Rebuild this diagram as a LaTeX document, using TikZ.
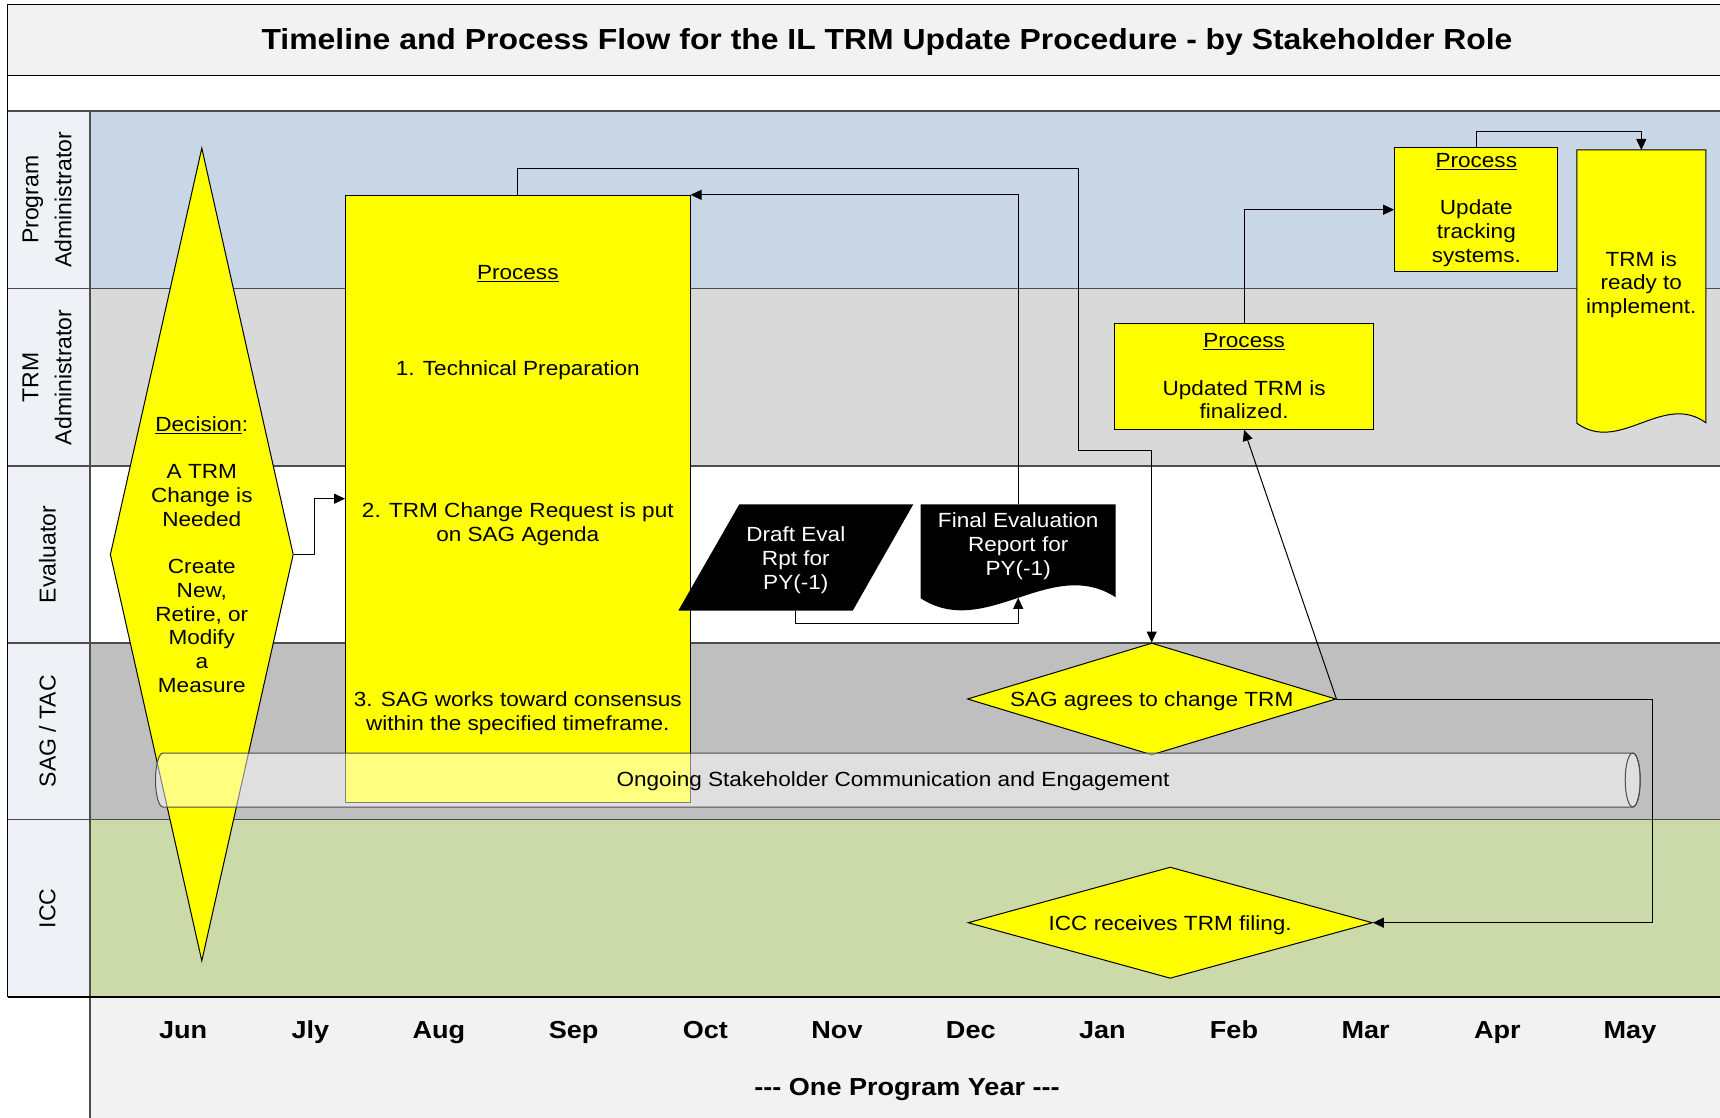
\documentclass[tikz,border=0pt]{standalone}
\usepackage{fontspec}
\setmainfont{Liberation Sans}[FakeStretch=1.1]
\newfontfamily\lanefont{Liberation Sans}
\usetikzlibrary{arrows.meta, shapes.geometric, positioning}

\definecolor{padmin}{HTML}{C8D6E5}
\definecolor{trmadmin}{HTML}{D9D9D9}
\definecolor{sagtac}{HTML}{BFBFBF}
\definecolor{icclane}{HTML}{CCDAAA}
\definecolor{labelcol}{HTML}{EEF1F6}
\definecolor{banner}{HTML}{F2F2F2}
\definecolor{laneline}{HTML}{4D4D4D}
\definecolor{stepyellow}{RGB}{255,255,0}

\newcommand\bodyfont{\fontsize{20.5}{23.7}\selectfont}

\tikzset{
  lane/.style={draw=laneline, line width=1.8pt},
  lanelabel/.style={rotate=90, align=center, font=\lanefont\fontsize{23}{33}\selectfont},
  bodytext/.style={align=center, font=\bodyfont, inner sep=0pt},
  procbox/.style={draw, fill=stepyellow, line width=1pt, inner sep=0pt, align=center, font=\bodyfont},
  decision/.style={diamond, draw, fill=stepyellow, line width=1pt, inner sep=0pt},
  flow/.style={draw, line width=1pt, -{Triangle[length=11pt, width=10pt]}},
  month/.style={anchor=base, font=\bfseries\fontsize{24.6}{28}\selectfont},
}

\begin{document}
\begin{tikzpicture}[x=1pt, y=-1pt]
    \useasboundingbox (0,0) rectangle (1720,1118);
    \fill[white] (0,0) rectangle (1720,1118);

    % Title band
    \fill[banner] (7.7,4.4) rectangle (1720,75.7);
    \draw[line width=1.5pt] (1720,4.4) -- (7.7,4.4) -- (7.7,997.1);
    \draw[line width=1.5pt] (7.7,75.7) -- (1720,75.7);
    \node[anchor=base, font=\bfseries\fontsize{29}{34}\selectfont] (title) at (887,49.3)
        {Timeline and Process Flow for the IL TRM Update Procedure - by Stakeholder Role};

    % Swim lanes
    \fill[labelcol] (7.7,110.8) rectangle (90,997.1);
    \foreach \top/\col in {110.8/padmin, 288.5/trmadmin, 466.2/white, 642.8/sagtac, 819.4/icclane}
        \fill[\col] (90,\top) rectangle (1720,{\top+177.3});
    \fill[banner] (90,997.1) rectangle (1720,1118);
    \foreach \y in {110.8, 288.5, 466.2, 642.8, 819.4}
        \draw[lane] (7.7,\y) -- (1720,\y);
    \draw[lane] (90,110.8) -- (90,1118);
    \draw[line width=2.5pt] (7.7,997.1) -- (1720,997.1);

    \node[lanelabel] (lbl-pa) at (47,199.7) {Program\\Administrator};
    \node[lanelabel] (lbl-trm) at (47,377.3) {TRM\\Administrator};
    \node[lanelabel] (lbl-eval) at (47.5,554.5) {Evaluator};
    \node[lanelabel] (lbl-sag) at (47.5,731.1) {SAG / TAC};
    \node[lanelabel] (lbl-icc) at (47.5,908.2) {ICC};

    % Decision
    \node[decision, minimum width=183.2pt, minimum height=813pt] (dec) at (201.8,554.5) {};
    \node[bodytext] (dec-text) at (dec) {\underline{Decision}:\\[23.7pt]A TRM\\Change is\\Needed\\[23.7pt]Create\\New,\\Retire, or\\Modify\\a\\Measure};

    % Main process box
    \node[procbox, minimum width=344.5pt, minimum height=606.7pt] (prep) at (517.8,498.7) {};
    \node[bodytext] (prep-head) at (517.8,274) {\underline{Process}};
    \node[bodytext] (prep-1) at (517.8,369.9) {1. Technical Preparation};
    \node[bodytext] (prep-2) at (517.8,524.4) {2. TRM Change Request is put\\on SAG Agenda};
    \node[bodytext] (prep-3) at (517.8,713.2) {3. SAG works toward consensus\\within the specified timeframe.};

    % Evaluation reports
    \fill (678.3,610.7) -- (739.3,504.3) -- (913.3,504.3) -- (852.7,610.7) -- cycle;
    \node[bodytext, text=white] (draft) at (795.8,560) {Draft Eval\\Rpt for\\PY(-1)};
    \coordinate (draft-s) at (795.8,610.7);

    \fill (920.7,504.3) -- (1115.7,504.3) -- (1115.7,597.3)
        .. controls (1050.7,555.3) and (985.7,640.3) .. (920.7,598.3) -- cycle;
    \node[bodytext, text=white] (final) at (1018.2,546) {Final Evaluation\\Report for\\PY(-1)};
    \coordinate (final-n) at (1018.2,504.3);
    \coordinate (final-s) at (1018.2,597.8);

    % SAG and ICC decisions
    \node[decision, minimum width=368.5pt, minimum height=112pt] (sag) at (1151.7,699) {};
    \node[bodytext] (sag-text) at (1151.7,701) {SAG agrees to change TRM};
    \node[decision, minimum width=404.4pt, minimum height=111.3pt] (icc) at (1170.2,922.7) {};
    \node[bodytext] (icc-text) at (1170.2,925) {ICC receives TRM filing.};

    % TRM administrator and program administrator steps
    \node[procbox, minimum width=259pt, minimum height=106pt] (fin) at (1244.1,376.3)
        {\underline{Process}\\[23.7pt]Updated TRM is\\finalized.};
    \node[procbox, minimum width=163.3pt, minimum height=124pt] (upd) at (1476.3,209.7)
        {\underline{Process}\\[23.7pt]Update\\tracking\\systems.};
    \filldraw[fill=stepyellow, line width=1pt] (1576.9,150) -- (1705.8,150) -- (1705.8,422.7)
        .. controls (1662.8,391.7) and (1619.9,454.3) .. (1576.9,423.3) -- cycle;
    \node[bodytext] (ready) at (1641.3,284.4) {TRM is\\ready to\\implement.};
    \coordinate (ready-n) at (1641.3,150);

    % Ongoing engagement pipe
    \filldraw[fill=white, fill opacity=0.5, draw=laneline, line width=1pt]
        (163,753) -- (1632.7,753) arc[start angle=90, end angle=-90, x radius=7.5pt, y radius=27pt]
        -- (163,807) arc[start angle=270, end angle=90, x radius=7.5pt, y radius=27pt] -- cycle;
    \draw[draw=laneline, line width=1pt] (1632.7,780) ellipse [x radius=7.5pt, y radius=27pt];
    \node[bodytext] (ongoing) at (893,781.5) {Ongoing Stakeholder Communication and Engagement};

    % Connectors
    \draw[flow] (dec.east) -- ++(20.6,0) |- (prep.west);
    \draw[flow] (prep.north) -- ++(0,-26.3) -| (1078.3,450.8) -| (sag.north);
    \draw[flow] (final-n) |- (prep.north east);
    \draw[flow] (draft-s) -- ++(0,12.6) -| (final-s);
    \draw[flow] (sag.east) -- (fin.south);
    \draw[flow] (sag.east) -- ++(316.4,0) |- (icc.east);
    \draw[flow] (fin.north) |- (upd.west);
    \draw[flow] (upd.north) -- ++(0,-16) -| (ready-n);

    % Months
    \foreach \m/\x in {Jun/183.2, Jly/310.4, Aug/438.8, Sep/573.7, Oct/705.3, Nov/837,
                       Dec/970.8, Jan/1102.4, Feb/1234, Mar/1365.7, Apr/1497.3, May/1630}
        \node[month] (m-\m) at (\x,1038) {\m};
    \node[month] (year) at (907,1095) {\mbox{-}\mbox{-}\mbox{-} One Program Year \mbox{-}\mbox{-}\mbox{-}};
\end{tikzpicture}
\end{document}
